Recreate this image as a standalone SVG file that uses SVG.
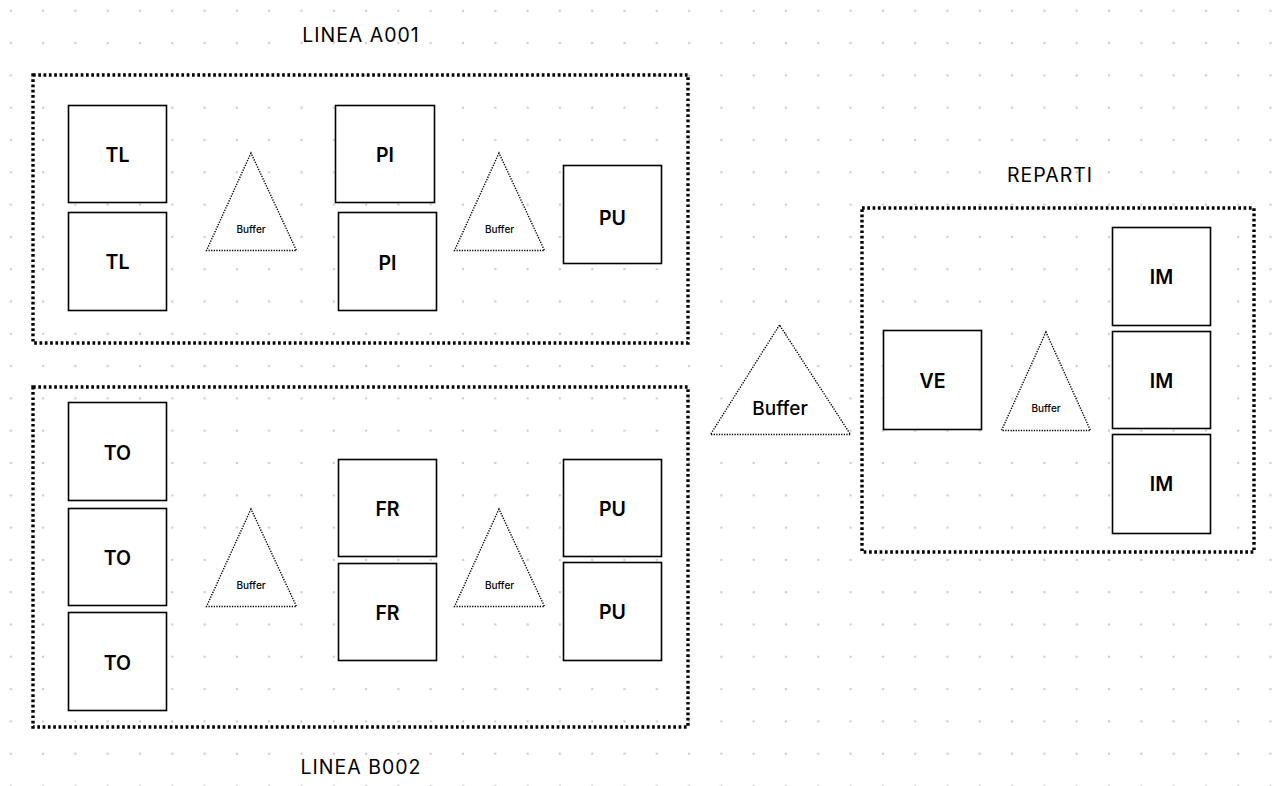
<svg xmlns="http://www.w3.org/2000/svg" width="1277" height="786" viewBox="0 0 1277 786">
  <defs>
    <pattern id="dots" x="10.8" y="10.8" width="32.3" height="32.3" patternUnits="userSpaceOnUse">
      <circle cx="0" cy="0" r="1.3" fill="#cfcfcf"/>
      <circle cx="32.3" cy="0" r="1.3" fill="#cfcfcf"/>
      <circle cx="0" cy="32.3" r="1.3" fill="#cfcfcf"/>
      <circle cx="32.3" cy="32.3" r="1.3" fill="#cfcfcf"/>
    </pattern>
  </defs>
  <style>
    .group { fill: none; stroke: #000; stroke-width: 3.4; stroke-dasharray: 2.7 2.6; }
    .box { fill: #fff; stroke: #000; stroke-width: 1.6; }
    .buf { fill: #fff; stroke: #000; stroke-width: 1.4; stroke-dasharray: 1.3 1.3; }
    .lbl { font-family: Inter, "Liberation Sans", sans-serif; font-size: 19.5px; font-weight: 600; fill: #000; text-anchor: middle; dominant-baseline: central; }
    .bt { font-family: Inter, "Liberation Sans", sans-serif; font-size: 10px; font-weight: 500; fill: #000; text-anchor: middle; dominant-baseline: central; }
    .btl { font-family: Inter, "Liberation Sans", sans-serif; font-size: 19px; font-weight: 500; fill: #000; text-anchor: middle; dominant-baseline: central; }
    .title { font-family: Inter, "Liberation Sans", sans-serif; font-size: 19.5px; font-weight: 400; letter-spacing: 1px; fill: #000; text-anchor: middle; dominant-baseline: central; }
  </style>

  <!-- dotted canvas -->
  <rect x="0" y="0" width="1277" height="786" fill="#fff"/>
  <rect x="0" y="0" width="1277" height="786" fill="url(#dots)"/>

  <!-- group frames and titles -->
  <g id="linea-a001">
    <rect class="group" x="33" y="75" width="655" height="268"/>
    <text class="title" x="361" y="35">LINEA A001</text>
  </g>
  <g id="linea-b002">
    <rect class="group" x="33" y="387" width="655" height="340"/>
    <text class="title" x="361" y="767">LINEA B002</text>
  </g>
  <g id="reparti">
    <rect class="group" x="862" y="208" width="392" height="344"/>
    <text class="title" x="1050" y="175">REPARTI</text>
  </g>

  <!-- Linea A001 stations -->
  <g id="tl-1"><rect class="box" x="68.5" y="105.5" width="98" height="97"/><text class="lbl" x="117.5" y="155">TL</text></g>
  <g id="tl-2"><rect class="box" x="68.5" y="212.5" width="98" height="98"/><text class="lbl" x="117.5" y="262">TL</text></g>
  <g id="buffer-a1"><polygon class="buf" points="251,153 206.5,250.5 296.5,250.5"/><text class="bt" x="251" y="229">Buffer</text></g>
  <g id="pi-1"><rect class="box" x="335.5" y="105.5" width="99" height="97"/><text class="lbl" x="385" y="155">PI</text></g>
  <g id="pi-2"><rect class="box" x="338.5" y="212.5" width="98" height="98"/><text class="lbl" x="387.5" y="263">PI</text></g>
  <g id="buffer-a2"><polygon class="buf" points="499,153 454.5,250.5 544.5,250.5"/><text class="bt" x="499.5" y="229">Buffer</text></g>
  <g id="pu-a"><rect class="box" x="563.5" y="165.5" width="98" height="98"/><text class="lbl" x="612.5" y="218">PU</text></g>

  <!-- Linea B002 stations -->
  <g id="to-1"><rect class="box" x="68.5" y="402.5" width="98" height="98"/><text class="lbl" x="117.5" y="453">TO</text></g>
  <g id="to-2"><rect class="box" x="68.5" y="508.5" width="98" height="97"/><text class="lbl" x="117.5" y="558">TO</text></g>
  <g id="to-3"><rect class="box" x="68.5" y="612.5" width="98" height="98"/><text class="lbl" x="117.5" y="663">TO</text></g>
  <g id="buffer-b1"><polygon class="buf" points="251,509 206.5,606.5 296.5,606.5"/><text class="bt" x="251" y="585">Buffer</text></g>
  <g id="fr-1"><rect class="box" x="338.5" y="459.5" width="98" height="97"/><text class="lbl" x="387.5" y="509">FR</text></g>
  <g id="fr-2"><rect class="box" x="338.5" y="563.5" width="98" height="97"/><text class="lbl" x="387.5" y="613">FR</text></g>
  <g id="buffer-b2"><polygon class="buf" points="499,509 454.5,606.5 544.5,606.5"/><text class="bt" x="499.5" y="585">Buffer</text></g>
  <g id="pu-b1"><rect class="box" x="563.5" y="459.5" width="98" height="97"/><text class="lbl" x="612.5" y="509">PU</text></g>
  <g id="pu-b2"><rect class="box" x="563.5" y="562.5" width="98" height="98"/><text class="lbl" x="612.5" y="612">PU</text></g>

  <!-- central buffer -->
  <g id="buffer-main"><polygon class="buf" points="779.5,325 710.5,434.5 850.5,434.5"/><text class="btl" x="780" y="408">Buffer</text></g>

  <!-- Reparti stations -->
  <g id="ve"><rect class="box" x="883.5" y="330.5" width="98" height="99"/><text class="lbl" x="932.5" y="381">VE</text></g>
  <g id="buffer-r"><polygon class="buf" points="1046,332 1001.5,430.5 1090.5,430.5"/><text class="bt" x="1046" y="408">Buffer</text></g>
  <g id="im-1"><rect class="box" x="1112.5" y="227.5" width="98" height="98"/><text class="lbl" x="1161.5" y="277">IM</text></g>
  <g id="im-2"><rect class="box" x="1112.5" y="331.5" width="98" height="97"/><text class="lbl" x="1161.5" y="381">IM</text></g>
  <g id="im-3"><rect class="box" x="1112.5" y="434.5" width="98" height="99"/><text class="lbl" x="1161.5" y="484">IM</text></g>

  <!-- no connectors drawn between stations -->
  <g id="connectors"></g>
</svg>
